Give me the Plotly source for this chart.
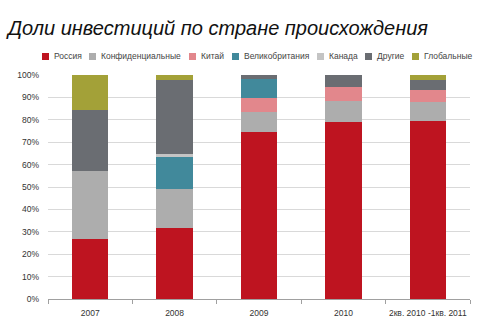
import plotly.graph_objects as go

categories = ["2007", "2008", "2009", "2010", "2кв. 2010 -1кв. 2011"]
series_names = ["Россия", "Конфиденциальные", "Китай", "Великобритания", "Канада", "Другие", "Глобальные"]
russia = [27.0, 31.6, 74.7, 79.0, 79.5]
confidential = [30.0, 17.4, 8.8, 9.2, 8.3]
china = [0.0, 0.0, 6.4, 6.4, 5.5]
uk = [0.0, 14.5, 8.2, 0.0, 0.0]
canada = [0.0, 1.1, 0.0, 0.0, 0.0]
other = [27.2, 33.2, 1.9, 5.4, 4.5]
global_ = [15.8, 2.2, 0.0, 0.0, 2.2]
y_ticks = [0, 10, 20, 30, 40, 50, 60, 70, 80, 90, 100]

series_values = [russia, confidential, china, uk, canada, other, global_]
colors = ["#BE1420", "#ADADAD", "#E2878C", "#41899B", "#C4C4C4", "#6A6D72", "#A3A138"]

fig = go.Figure()
for name, vals, col in zip(series_names, series_values, colors):
    fig.add_trace(go.Bar(x=categories, y=vals, name=name, marker=dict(color=col, line=dict(width=0)),
                         showlegend=False))

W, H = 480, 328
ml, mr, mt, mb = 48, 10, 75, 29

# custom compact legend (pixel positions of swatches)
legend_px = [42, 89, 189, 232, 317, 365, 412]
legend_y = 56.5
shapes = []
annotations = []
for name, col, px in zip(series_names, colors, legend_px):
    x0 = (px - ml) / (W - ml - mr)
    x1 = (px + 7 - ml) / (W - ml - mr)
    y0 = 1 + (mt - legend_y - 3.5) / (H - mt - mb)
    y1 = 1 + (mt - legend_y + 3.5) / (H - mt - mb)
    shapes.append(dict(type="rect", xref="paper", yref="paper", x0=x0, x1=x1, y0=y0, y1=y1,
                       fillcolor=col, line=dict(width=0)))
    annotations.append(dict(text=name, xref="paper", yref="paper",
                            x=(px + 10 - ml) / (W - ml - mr), y=1 + (mt - legend_y) / (H - mt - mb),
                            xanchor="left", yanchor="middle", showarrow=False,
                            font=dict(family="Liberation Sans, Arial", size=8.5, color="#444444")))

fig.update_layout(
    barmode="stack",
    bargap=0.57,
    width=W, height=H,
    margin=dict(l=ml, r=mr, t=mt, b=mb),
    paper_bgcolor="white", plot_bgcolor="white",
    title=dict(text="<i>Доли инвестиций по стране происхождения</i>", x=8 / W, xref="container",
               xanchor="left", y=1 - 28 / H, yanchor="middle",
               font=dict(family="Liberation Sans, Arial", size=20, color="#111111")),
    font=dict(family="Liberation Sans, Arial", size=8.5, color="#333333"),
    shapes=shapes,
    annotations=annotations,
    showlegend=False,
)
fig.update_xaxes(showline=True, linecolor="#A0A0A0", linewidth=1, ticks="outside",
                 tickson="boundaries", ticklen=4, tickcolor="#A0A0A0", tickangle=0, automargin=False,
                 showgrid=False, ticklabelstandoff=6, tickfont=dict(size=8.5, color="#333333"))
fig.update_yaxes(range=[0, 100], tickvals=y_ticks, ticktext=[f"{v}%" for v in y_ticks],
                 showgrid=True, gridcolor="#D9D9D9", gridwidth=1, zeroline=False, automargin=False,
                 showline=False, ticklabelstandoff=8, tickfont=dict(size=8.5, color="#333333"))

fig.write_html("out.html")
